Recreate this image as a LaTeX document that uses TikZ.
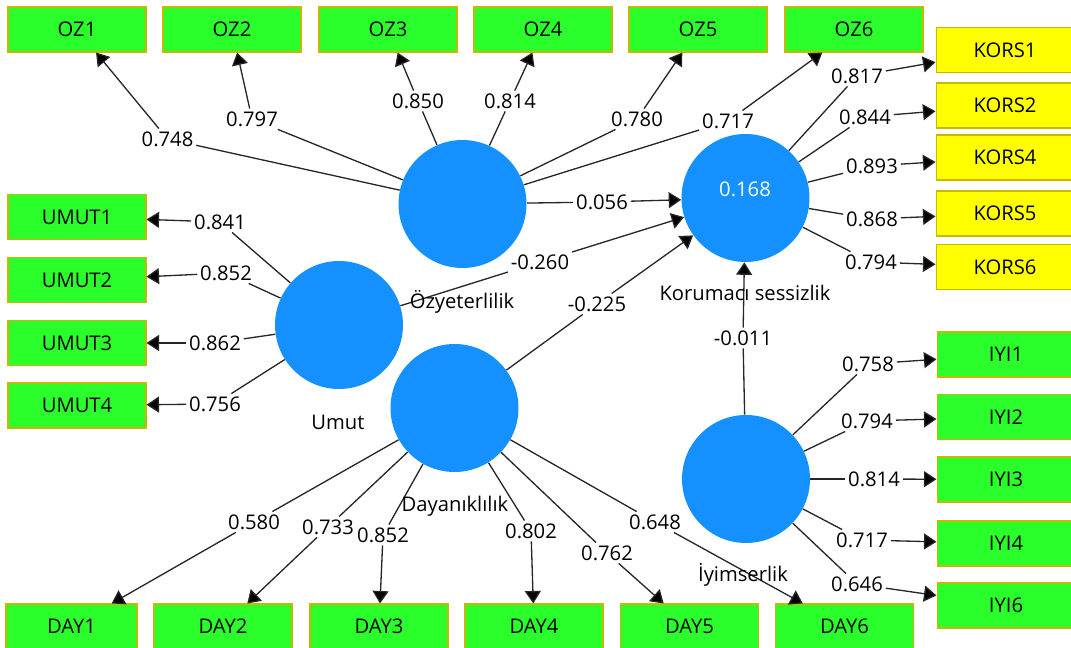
\documentclass[tikz,border=0pt]{standalone}
\usepackage{fontspec}
\setmainfont{Open Sans}
\usetikzlibrary{arrows.meta}
\definecolor{boxgreen}{RGB}{43,255,43}
\definecolor{boxyellow}{RGB}{255,255,0}
\definecolor{boxedge}{RGB}{200,185,0}
\definecolor{lvblue}{RGB}{20,144,255}
\newcommand\fs{\fontsize{11.5}{13}\selectfont}
\newcommand\conn[3]{\draw[ln] (#1) -- (#2); \draw[ln,arr] (#2) -- (#3);}
\begin{document}
\begin{tikzpicture}[x=0.02cm,y=-0.02cm,
 ind/.style={draw=boxedge,line width=0.6pt,fill=boxgreen,minimum width=2.76cm,minimum height=0.9cm,inner sep=0pt,font=\fs},
 korsbox/.style={ind,fill=boxyellow},
 lv/.style={circle,fill=lvblue,minimum size=2.56cm,inner sep=0pt},
 val/.style={fill=white,inner sep=1.5pt,font=\fs},
 lvname/.style={font=\fs,inner sep=1pt},
 ln/.style={line width=0.75pt,black!85},
 arr/.style={-{Triangle[length=2.5mm,width=3.2mm,fill=black]}}
]
\useasboundingbox (0,0) rectangle (1071,648);
% latent variables
\node[lv] (OZ) at (462.5,204) {};
\node[lv] (KS) at (745.5,198) {};
\node[font=\fs,text=white] (r2) at (745,189) {0.168};
\node[lv] (UM) at (339,325) {};
\node[lv] (DA) at (454.5,408) {};
\node[lv] (IY) at (746,479) {};
% indicators
\node[ind] (OZ1) at (77,29.5) {OZ1};
\node[ind] (OZ2) at (232,29.5) {OZ2};
\node[ind] (OZ3) at (388,29.5) {OZ3};
\node[ind] (OZ4) at (543,29.5) {OZ4};
\node[ind] (OZ5) at (698,29.5) {OZ5};
\node[ind] (OZ6) at (854,29.5) {OZ6};
\node[korsbox] (K1) at (1005,50) {KORS1};
\node[korsbox] (K2) at (1005,105.5) {KORS2};
\node[korsbox] (K4) at (1005,157.5) {KORS4};
\node[korsbox] (K5) at (1005,213.5) {KORS5};
\node[korsbox] (K6) at (1005,267) {KORS6};
\node[ind] (I1) at (1006,354.5) {IYI1};
\node[ind] (I2) at (1006,417) {IYI2};
\node[ind] (I3) at (1006,479.5) {IYI3};
\node[ind] (I4) at (1006,543.5) {IYI4};
\node[ind] (I6) at (1006,605.5) {IYI6};
\node[ind] (U1) at (77,217) {UMUT1};
\node[ind] (U2) at (77,280) {UMUT2};
\node[ind] (U3) at (77,343) {UMUT3};
\node[ind] (U4) at (77,405.5) {UMUT4};
\node[ind,minimum width=2.62cm] (D1) at (71.5,626.5) {DAY1};
\node[ind] (D2) at (223,626.5) {DAY2};
\node[ind] (D3) at (379,626.5) {DAY3};
\node[ind] (D4) at (534,626.5) {DAY4};
\node[ind] (D5) at (689.5,626.5) {DAY5};
\node[ind] (D6) at (844.5,626.5) {DAY6};
% value labels
\node[val] (vO1) at (167.5,139) {0.748};
\node[val] (vO2) at (252,119) {0.797};
\node[val] (vO3) at (418,101) {0.850};
\node[val] (vO4) at (510,101) {0.814};
\node[val] (vO5) at (637,119) {0.780};
\node[val] (vO6) at (728,121) {0.717};
\node[val] (vK1) at (857,76) {0.817};
\node[val] (vK2) at (865,117) {0.844};
\node[val] (vK4) at (872,166) {0.893};
\node[val] (vK5) at (872,219) {0.868};
\node[val] (vK6) at (871,262) {0.794};
\node[val] (vI1) at (868,364) {0.758};
\node[val] (vI2) at (867,421) {0.794};
\node[val] (vI3) at (874,479) {0.814};
\node[val] (vI4) at (862,540) {0.717};
\node[val] (vI6) at (857,584) {0.646};
\node[val] (vU1) at (220,222) {0.841};
\node[val] (vU2) at (226,273) {0.852};
\node[val] (vU3) at (215,343) {0.862};
\node[val] (vU4) at (215,404) {0.756};
\node[val] (vD1) at (254,522) {0.580};
\node[val] (vD2) at (328,527) {0.733};
\node[val] (vD3) at (383,535) {0.852};
\node[val] (vD4) at (531,531) {0.802};
\node[val] (vD5) at (607,553) {0.762};
\node[val] (vD6) at (655,522) {0.648};
\node[val] (pOZ) at (602,202) {0.056};
\node[val] (pUM) at (540,262) {-0.260};
\node[val] (pDA) at (597,304) {-0.225};
\node[val] (pIY) at (743,338) {-0.011};
% connectors
\conn{OZ}{vO1}{OZ1}
\conn{OZ}{vO2}{OZ2}
\conn{OZ}{vO3}{OZ3}
\conn{OZ}{vO4}{OZ4}
\conn{OZ}{vO5}{OZ5}
\conn{OZ}{vO6}{OZ6}
\conn{KS}{vK1}{K1}
\conn{KS}{vK2}{K2}
\conn{KS}{vK4}{K4}
\conn{KS}{vK5}{K5}
\conn{KS}{vK6}{K6}
\conn{IY}{vI1}{I1}
\conn{IY}{vI2}{I2}
\conn{IY}{vI3}{I3}
\conn{IY}{vI4}{I4}
\conn{IY}{vI6}{I6}
\conn{UM}{vU1}{U1}
\conn{UM}{vU2}{U2}
\conn{UM}{vU3}{U3}
\conn{UM}{vU4}{U4}
\conn{DA}{vD1}{D1}
\conn{DA}{vD2}{D2}
\conn{DA}{vD3}{D3}
\conn{DA}{vD4}{D4}
\conn{DA}{vD5}{D5}
\conn{DA}{vD6}{D6}
\conn{OZ}{pOZ}{KS}
\conn{UM}{pUM}{KS}
\conn{DA}{pDA}{KS}
\conn{IY}{pIY}{KS}
% latent names
\node[lvname] (nOZ) at (462,302) {Özyeterlilik};
\node[lvname] (nKS) at (745,293) {Korumacı sessizlik};
\node[lvname] (nUM) at (338,422) {Umut};
\node[lvname] (nDA) at (455,506) {Dayanıklılık};
\node[lvname] (nIY) at (743,575) {İyimserlik};
\end{tikzpicture}
\end{document}
